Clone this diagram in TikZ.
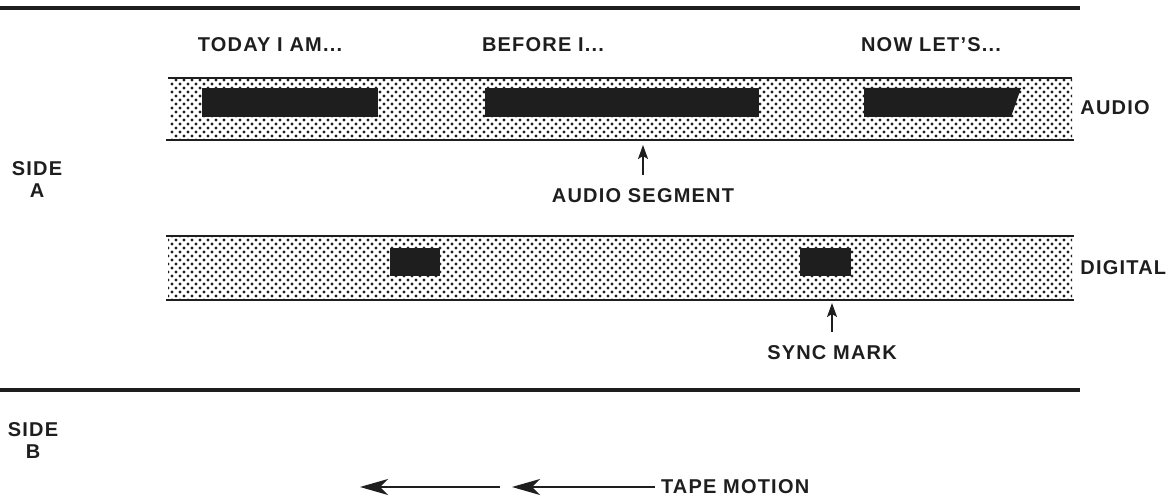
\documentclass[tikz,border=0pt]{standalone}
\usepackage{fontspec}
\setmainfont{Liberation Sans}[LetterSpace=6]
\usetikzlibrary{positioning,patterns,arrows.meta}
\definecolor{ink}{HTML}{1E1E1E}
\definecolor{grain}{HTML}{1E1E1E}
\pgfdeclarepatternformonly{tapedots}{\pgfqpoint{-1pt}{-1pt}}{\pgfqpoint{3pt}{3pt}}{\pgfqpoint{4pt}{4pt}}{%
  \pgfpathcircle{\pgfqpoint{0pt}{0pt}}{0.85pt}%
  \pgfpathcircle{\pgfqpoint{2pt}{2pt}}{0.85pt}%
  \pgfusepath{fill}}

\begin{document}
\begin{tikzpicture}[x=0.5pt, y=-0.5pt,
    every node/.style={font=\bfseries\fontsize{10}{11}\selectfont, text=ink, inner sep=0pt},
    divider/.style={draw=ink, line width=2pt},
    rim/.style={draw=ink, line width=0.8pt},
    track/.style={pattern=tapedots, pattern color=grain},
    blob/.style={fill=ink},
    callout/.style={outer ysep=7pt},
    pointer/.style={-{Stealth[length=7pt, width=5pt, inset=1.5pt]}, draw=ink, line width=0.8pt},
    motion/.style={-{Stealth[length=14pt, width=8pt, inset=4pt]}, draw=ink, line width=0.8pt},
  ]
  \useasboundingbox (0,0) rectangle (1173,496);

  % the two dividers
  \draw[divider] (0,8) -- (1080,8);
  \draw[divider] (0,390) -- (1080,390);

  % spoken phrases over the audio track
  \node (today)  at (270,45) {TODAY I AM...};
  \node (before) at (543,45) {BEFORE I...};
  \node (now)    at (931,45) {NOW LET'S...};

  % audio track
  \path[track] (170,78) rectangle (1072,140);
  \draw[rim] (168,78) -- (1072,78);
  \draw[rim] (166,140) -- (1074,140);
  \fill[blob] (202,88) rectangle (378,117);
  \fill[blob] (485,88) rectangle (759,117);
  \fill[blob] (864,88) -- (1021,88) -- (1011,117) -- (864,117) -- cycle;
  \coordinate (segtip) at (643,145);
  \node[anchor=west] (audio) at (1080,108) {AUDIO};

  % digital track
  \path[track] (168,236) rectangle (1072,300);
  \draw[rim] (166,236) -- (1074,236);
  \draw[rim] (166,300) -- (1074,300);
  \fill[blob] (390,248) rectangle (440,276);
  \fill[blob] (800,248) rectangle (851,276);
  \coordinate (synctip) at (832,303);
  \node[anchor=west] (digital) at (1080,268) {DIGITAL};

  % side labels
  \node[align=center] (sidea) at (37,180) {SIDE\\A};
  \node[align=center] (sideb) at (33,441) {SIDE\\B};

  % callouts
  \node[callout] (seg)  at (643,196) {AUDIO SEGMENT};
  \node[callout] (sync) at (832,353) {SYNC MARK};
  \draw[pointer] (seg.north) -- (segtip);
  \draw[pointer] (sync.north) -- (synctip);

  % tape motion
  \node[anchor=west, outer xsep=3pt] (tape) at (655,487) {TAPE MOTION};
  \coordinate (midtip) at (512,487);
  \coordinate (lefttail) at (500,487);
  \coordinate (lefttip) at (360,487);
  \draw[motion] (tape.west) -- (midtip);
  \draw[motion] (lefttail) -- (lefttip);
\end{tikzpicture}
\end{document}
